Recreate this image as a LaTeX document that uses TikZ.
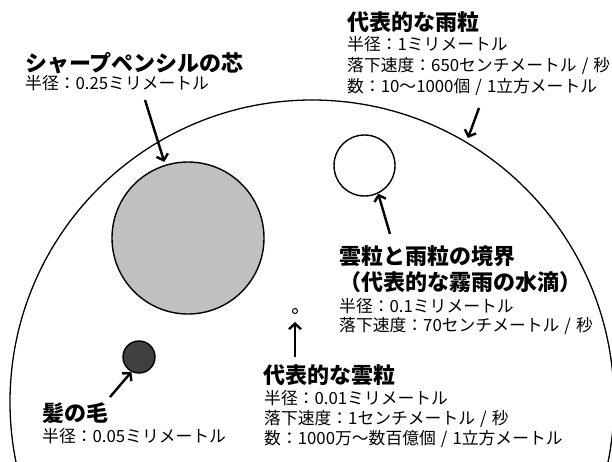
\documentclass[tikz,border=0pt]{standalone}
\usepackage{fontspec}
\setmainfont{Noto Sans CJK JP}
\usetikzlibrary{arrows.meta}
\tikzset{
  lbl/.style={anchor=base west, inner sep=0pt, font=\fontsize{16.8}{16.8}\selectfont},
  ttl/.style={anchor=base west, inner sep=0pt, font=\fontsize{22}{22}\selectfont\bfseries},
  ptr/.style={line width=2.4pt, -{Straight Barb[length=5.5pt,width=12pt]}},
  drop/.style={circle, draw, inner sep=0pt, line width=1.4pt},
  rim/.style={line width=1.3pt},
}
\newcommand{\sep}{\hspace{0.3em}/\hspace{0.3em}}
\begin{document}
\begin{tikzpicture}[x=1pt,y=-1pt]
\clip (0,0) rectangle (612,461);
\fill[white] (0,0) rectangle (612,461);
% large circle
\draw[rim] (312,402) circle[radius=302];
% drops
\node[drop, fill={rgb,255:red,192;green,192;blue,192}, minimum size=152pt] (pencil) at (188,238) {};
\node[drop, fill=white, minimum size=61pt] (rain) at (364.5,165.5) {};
\node[drop, fill={rgb,255:red,64;green,64;blue,64}, minimum size=32pt] (hair) at (139,357) {};
\node[drop, fill=white, line width=1pt, minimum size=5pt] (cloud) at (295,311) {};
% labels
\node[ttl] (pencilT) at (25,71) {シャープペンシルの芯};
\node[lbl] (pencilR) at (25,89.5) {半径：0.25ミリメートル};
\node[ttl] (rainT) at (347,30.5) {代表的な雨粒};
\node[lbl] (rainR) at (347,50.5) {半径：1ミリメートル};
\node[lbl] (rainV) at (347,71.5) {落下速度：650センチメートル\sep 秒};
\node[lbl] (rainN) at (347,92) {数：10～1000個\sep 1立方メートル};
\node[ttl] (bndT1) at (339,264) {雲粒と雨粒の境界};
\node[ttl] (bndT2) at (339,290.5) {（代表的な霧雨の水滴）};
\node[lbl] (bndR) at (339,312.5) {半径：0.1ミリメートル};
\node[lbl] (bndV) at (339,331) {落下速度：70センチメートル\sep 秒};
\node[ttl] (cldT) at (263,383) {代表的な雲粒};
\node[lbl] (cldR) at (264,404) {半径：0.01ミリメートル};
\node[lbl] (cldV) at (264,424) {落下速度：1センチメートル\sep 秒};
\node[lbl] (cldN) at (264,444) {数：1000万～数百億個\sep 1立方メートル};
\node[ttl] (hairT) at (42,421) {髪の毛};
\node[lbl] (hairR) at (42,442.5) {半径：0.05ミリメートル};
% arrow ends
\coordinate (pencilTail) at (145,100);
\coordinate (rainTail) at (479,108);
\coordinate (rimPt) at (468,138);
\coordinate (bndTail) at (390,234);
\coordinate (hairTail) at (110,397);
\coordinate (cloudTail) at (295,357);
% arrows
\draw[ptr, shorten >=3pt] (pencilTail) -- (pencil);
\draw[ptr] (rainTail) -- (rimPt);
\draw[ptr] (bndTail) -- (rain.-64);
\draw[ptr] (hairTail) -- (hair.-117);
\draw[ptr, shorten >=8pt] (cloudTail) -- (cloud.south);
\end{tikzpicture}
\end{document}
